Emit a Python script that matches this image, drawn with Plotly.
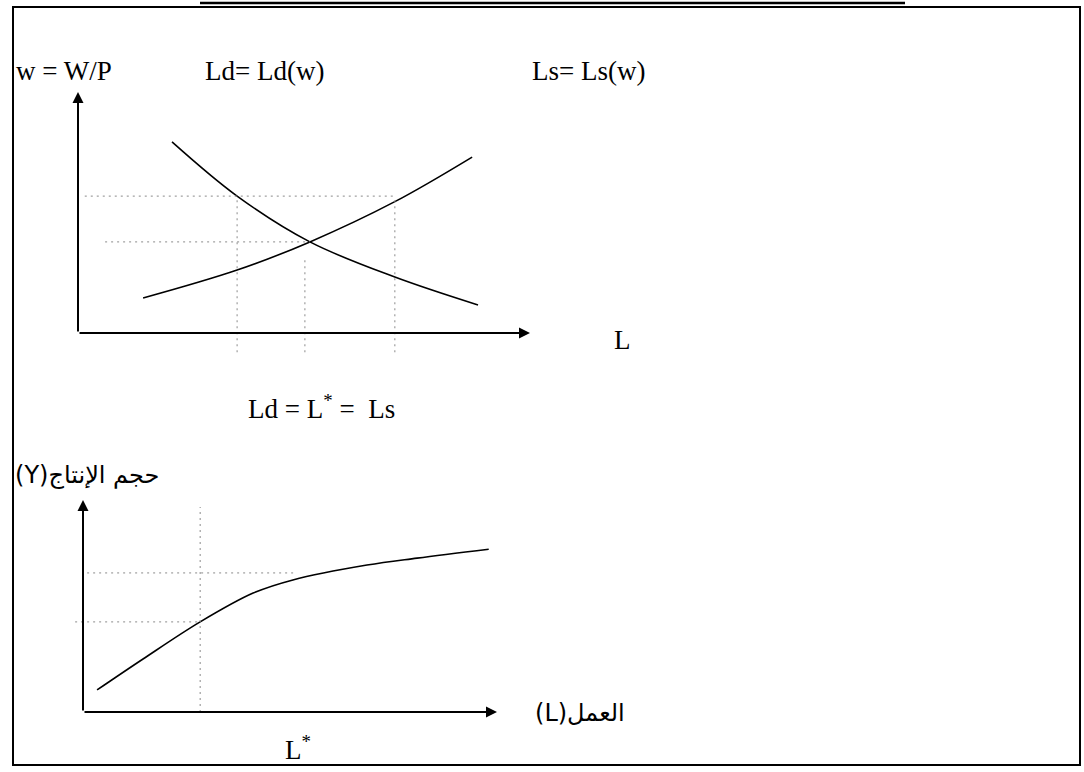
import plotly.graph_objects as go

W, H = 1084, 772

# ---- labour market (top panel): real wage w against labour L ----
ld_L = [2.08, 3.52, 5.13, 7.01, 8.85]     # labour demand Ld(w)
ld_w = [7.93, 5.68, 3.78, 2.32, 1.16]
ls_L = [1.44, 3.52, 5.13, 7.01, 8.72]     # labour supply Ls(w)
ls_w = [1.45, 2.61, 3.78, 5.45, 7.30]

# dotted guides in the labour market
top_vx = [3.52, 5.02, 7.01]               # vertical guides at these L
top_vy_top = [5.68, 3.15, 5.56]           # upper end of each vertical guide
top_hy = [5.68, 3.78]                     # horizontal guides at these w
top_hx = [(0.15, 7.01), (0.6, 5.13)]      # extent of each horizontal guide

# ---- production function (bottom panel): output Y against labour L ----
prod_L = [0.34, 1.45, 2.83, 4.11, 5.07, 6.86, 8.07, 9.8]
prod_Y = [1.04, 2.50, 4.25, 5.61, 6.23, 6.93, 7.26, 7.68]

bot_vx = 2.83                             # L* guide
bot_vy_top = 9.67
bot_hy = [4.25, 6.56]
bot_hx = [(-0.19, 2.83), (0.1, 5.1)]

AXIS_END = 10.0

# pixel geometry of each panel: origin, pixels per unit, padded ranges
TOP = dict(ox=78, oy=333, ux=45.2, uy=24.1, xr=(-1.5, 11.5), yr=(-1.2, 10.8))
BOT = dict(ox=83, oy=712, ux=41.4, uy=21.2, xr=(-1.5, 11.5), yr=(-1.5, 11.5))


def domains(p):
    xl = p["ox"] + p["xr"][0] * p["ux"]
    xh = p["ox"] + p["xr"][1] * p["ux"]
    yb = p["oy"] - p["yr"][0] * p["uy"]
    yt = p["oy"] - p["yr"][1] * p["uy"]
    return [xl / W, xh / W], [1 - yb / H, 1 - yt / H]


def px(x, y):
    return x / W, 1 - y / H


fig = go.Figure()

curve = dict(color="black", width=1.6)
guide = dict(color="#8a8a8a", width=1, dash="2px,4px")

# labour market curves
fig.add_trace(go.Scatter(x=ld_L, y=ld_w, mode="lines", line=dict(shape="spline", **curve),
                         xaxis="x", yaxis="y", hoverinfo="skip"))
fig.add_trace(go.Scatter(x=ls_L, y=ls_w, mode="lines", line=dict(shape="spline", **curve),
                         xaxis="x", yaxis="y", hoverinfo="skip"))
for xv, ytop in zip(top_vx, top_vy_top):
    fig.add_trace(go.Scatter(x=[xv, xv], y=[-0.8, ytop], mode="lines", line=guide,
                             xaxis="x", yaxis="y", hoverinfo="skip"))
for yv, (x0, x1) in zip(top_hy, top_hx):
    fig.add_trace(go.Scatter(x=[x0, x1], y=[yv, yv], mode="lines", line=guide,
                             xaxis="x", yaxis="y", hoverinfo="skip"))

# production function
fig.add_trace(go.Scatter(x=prod_L, y=prod_Y, mode="lines", line=dict(shape="spline", **curve),
                         xaxis="x2", yaxis="y2", hoverinfo="skip"))
fig.add_trace(go.Scatter(x=[bot_vx, bot_vx], y=[0, bot_vy_top], mode="lines", line=guide,
                         xaxis="x2", yaxis="y2", hoverinfo="skip"))
for yv, (x0, x1) in zip(bot_hy, bot_hx):
    fig.add_trace(go.Scatter(x=[x0, x1], y=[yv, yv], mode="lines", line=guide,
                             xaxis="x2", yaxis="y2", hoverinfo="skip"))

tx, ty = domains(TOP)
bx, by = domains(BOT)
hidden = dict(visible=False, fixedrange=True)

annotations = []
# axis arrows
for xr, yr in (("x", "y"), ("x2", "y2")):
    annotations.append(dict(x=0, y=AXIS_END, ax=0, ay=0, xref=xr, yref=yr, axref=xr, ayref=yr,
                            showarrow=True, arrowhead=2, arrowsize=1.1, arrowwidth=2,
                            arrowcolor="black", text=""))
    annotations.append(dict(x=AXIS_END, y=0, ax=0, ay=0, xref=xr, yref=yr, axref=xr, ayref=yr,
                            showarrow=True, arrowhead=2, arrowsize=1.1, arrowwidth=2,
                            arrowcolor="black", text=""))

serif = dict(family="Liberation Serif, Times New Roman, DejaVu Sans", size=27, color="black")
arabic = dict(family="DejaVu Sans, Liberation Serif", size=24, color="black")


def label(text, x, y, anchor="center", font=serif):
    xp, yp = px(x, y)
    annotations.append(dict(text=text, x=xp, y=yp, xref="paper", yref="paper",
                            xanchor=anchor, yanchor="middle", showarrow=False, font=font))


label("w = W/P", 14, 71, anchor="left")
label("Ld= Ld(w)", 264, 71)
label("Ls= Ls(w)", 588, 71)
label("L", 622, 340)
label("Ld = L<sup>*</sup> =\u00a0\u00a0Ls", 322, 407)
label("\u202Bحجم الإنتاج(Y)\u202C", 13, 475, anchor="left", font=arabic)
label("\u202Bالعمل(L)\u202C", 580, 713, font=arabic)
label("L<sup>*</sup>", 298, 748)

shapes = []
fx0, fy0 = px(13, 7)
fx1, fy1 = px(1080, 765)
shapes.append(dict(type="rect", xref="paper", yref="paper", x0=fx0, y0=fy1, x1=fx1, y1=fy0,
                   line=dict(color="black", width=2)))
lx0, ly = px(200, 3)
lx1, _ = px(905, 3)
shapes.append(dict(type="line", xref="paper", yref="paper", x0=lx0, y0=ly, x1=lx1, y1=ly,
                   line=dict(color="black", width=2.5)))

fig.update_layout(
    width=W, height=H,
    margin=dict(l=0, r=0, t=0, b=0),
    paper_bgcolor="white", plot_bgcolor="white",
    showlegend=False,
    xaxis=dict(domain=tx, range=list(TOP["xr"]), anchor="y", **hidden),
    yaxis=dict(domain=ty, range=list(TOP["yr"]), anchor="x", **hidden),
    xaxis2=dict(domain=bx, range=list(BOT["xr"]), anchor="y2", **hidden),
    yaxis2=dict(domain=by, range=list(BOT["yr"]), anchor="x2", **hidden),
    annotations=annotations,
    shapes=shapes,
)

fig.write_html("out.html")
